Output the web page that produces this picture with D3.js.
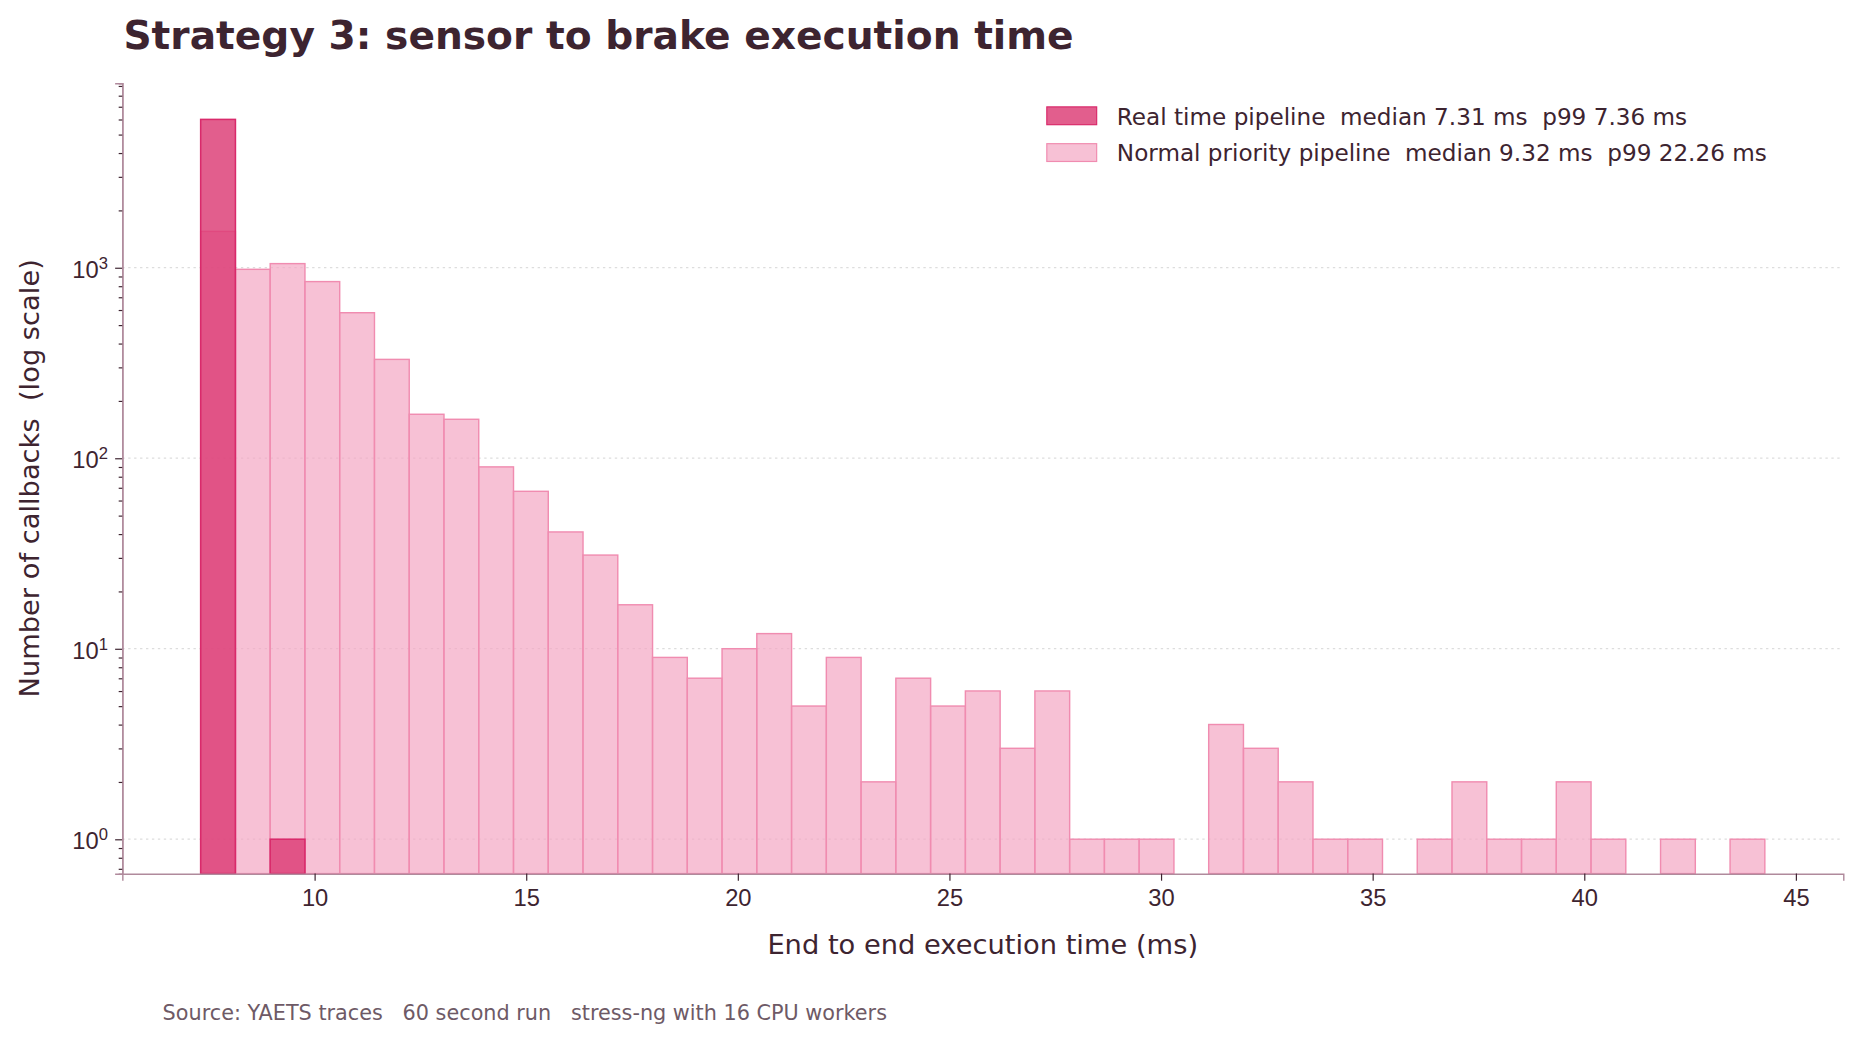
<!DOCTYPE html>
<html>
<head>
<meta charset="utf-8">
<script src="https://cdn.jsdelivr.net/npm/d3@7"></script>
<style>
  body { margin: 0; background: #fff; font-family: "DejaVu Sans", sans-serif; }
  text { white-space: pre; }
  .grid line { stroke: #ddd; stroke-dasharray: 2,3; }
</style>
</head>
<body>
<div id="chart"></div>
<script>
// bin layout (ms)
const binStart = 7.31;
const binWidth = 0.8213;

// counts per bin
const normalCounts = [1550, 980, 1050, 845, 580, 330, 170, 160, 90, 67, 41, 31, 17, 9, 7, 10, 12, 5, 9, 2,
  7, 5, 6, 3, 6, 1, 1, 1, 0, 4, 3, 2, 1, 1, 0, 1, 2, 1, 1, 2, 1, 0, 1, 0, 1];
const realtimeCounts = [6000, 0, 1];

const xTicks = [10, 15, 20, 25, 30, 35, 40, 45];
const yTicks = [1, 10, 100, 1000];
const legendLabels = [
  "Real time pipeline  median 7.31 ms  p99 7.36 ms",
  "Normal priority pipeline  median 9.32 ms  p99 22.26 ms"
];

const W = 1568, H = 877;
const margin = { top: 70, right: 15, bottom: 141, left: 103 };
const width = W - margin.left - margin.right;
const height = H - margin.top - margin.bottom;
const ink = "#3d2430";

const svg = d3.select("#chart").append("svg")
  .attr("width", 1861).attr("height", 1041)
  .attr("viewBox", `0 0 ${W} ${H}`);

const g = svg.append("g").attr("transform", `translate(${margin.left},${margin.top})`);

const x = d3.scaleLinear().domain([5.457, 46.12]).range([0, width]);
const y = d3.scaleLog().domain([0.66, 9300]).range([height, 0]);

// grid
g.append("g").attr("class", "grid")
  .selectAll("line").data(yTicks).join("line")
  .attr("x1", 0).attr("x2", width)
  .attr("y1", d => y(d)).attr("y2", d => y(d));

const toBins = counts => counts.map((c, i) => ({ x0: binStart + i * binWidth, c })).filter(d => d.c > 0);

g.selectAll("rect.np").data(toBins(normalCounts)).join("rect")
  .attr("class", "np")
  .attr("x", d => x(d.x0)).attr("width", d => x(d.x0 + binWidth) - x(d.x0))
  .attr("y", d => y(d.c)).attr("height", d => height - y(d.c))
  .attr("fill", "#f4a6c3").attr("fill-opacity", 0.7)
  .attr("stroke", "#f08cb0").attr("stroke-width", 1.2);

g.selectAll("rect.rt").data(toBins(realtimeCounts)).join("rect")
  .attr("class", "rt")
  .attr("x", d => x(d.x0)).attr("width", d => x(d.x0 + binWidth) - x(d.x0))
  .attr("y", d => y(d.c)).attr("height", d => height - y(d.c))
  .attr("fill", "#dc3a74").attr("fill-opacity", 0.82)
  .attr("stroke", "#d92a6b").attr("stroke-width", 1.3);

// axes
const xAxis = g.append("g").attr("transform", `translate(0,${height})`)
  .call(d3.axisBottom(x).tickValues(xTicks).tickSize(6).tickPadding(7));
const yAxis = g.append("g")
  .call(d3.axisLeft(y).tickValues(yTicks).tickFormat("").tickSize(6));
const minor = [];
for (let e = -1; e <= 3; e++) for (let m = 2; m <= 9; m++) {
  const v = m * Math.pow(10, e);
  if (v >= 0.66 && v <= 9300) minor.push(v);
}
g.append("g").call(d3.axisLeft(y).tickValues(minor).tickFormat("").tickSize(3));
g.selectAll(".domain").attr("stroke", "#b08a9c").attr("stroke-width", 1.2);
g.selectAll(".tick line").attr("stroke", ink);
xAxis.selectAll("text").attr("fill", ink).style("font-size", "20px");

// y tick labels as 10^n
yAxis.selectAll(".tick").each(function(d) {
  const t = d3.select(this).append("text").attr("x", -12).attr("dy", "0.4em")
    .attr("text-anchor", "end").attr("fill", ink).style("font-size", "20px");
  t.append("tspan").text("10");
  t.append("tspan").attr("dy", "-0.55em").style("font-size", "14px").text(Math.round(Math.log10(d)));
});

// axis labels
g.append("text").attr("x", width / 2).attr("y", height + 68)
  .attr("text-anchor", "middle").attr("fill", ink).style("font-size", "23px")
  .text("End to end execution time (ms)");
g.append("text").attr("transform", "rotate(-90)")
  .attr("x", -height / 2).attr("y", -70)
  .attr("text-anchor", "middle").attr("fill", ink).style("font-size", "23px")
  .text("Number of callbacks  (log scale)");

// title & footer
svg.append("text").attr("x", 104).attr("y", 41).attr("fill", ink)
  .style("font-size", "33px").style("font-weight", "bold")
  .text("Strategy 3: sensor to brake execution time");
svg.append("text").attr("x", 137).attr("y", 859).attr("fill", "#6e5a66")
  .style("font-size", "17.5px")
  .text("Source: YAETS traces   60 second run   stress-ng with 16 CPU workers");

// legend
const legendStyles = [
  { fill: "#dc3a74", op: 0.82, stroke: "#d92a6b" },
  { fill: "#f4a6c3", op: 0.7, stroke: "#f08cb0" }
];
const leg = svg.append("g").attr("transform", "translate(882,90)");
legendLabels.forEach((lab, i) => {
  const row = leg.append("g").attr("transform", `translate(0,${i * 31})`);
  row.append("rect").attr("width", 42).attr("height", 15)
    .attr("fill", legendStyles[i].fill).attr("fill-opacity", legendStyles[i].op)
    .attr("stroke", legendStyles[i].stroke);
  row.append("text").attr("x", 59).attr("y", 15).attr("fill", ink)
    .style("font-size", "19.5px").text(lab);
});
</script>
</body>
</html>
